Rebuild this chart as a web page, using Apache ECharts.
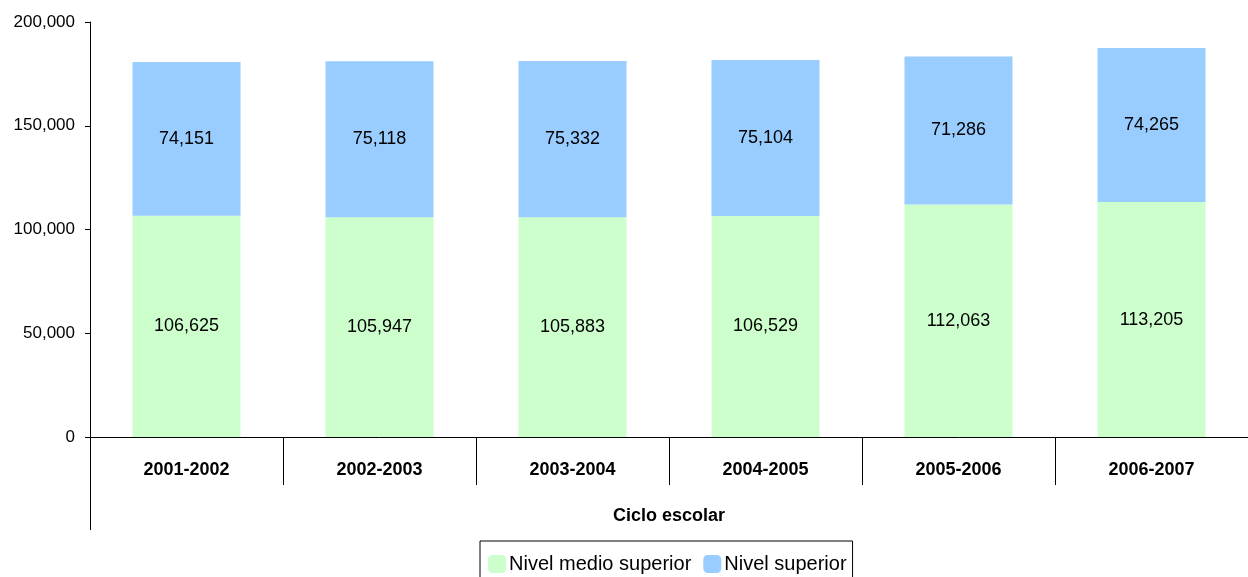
<!DOCTYPE html>
<html>
<head>
<meta charset="utf-8">
<script src="https://cdn.jsdelivr.net/npm/echarts@6/dist/echarts.min.js"></script>
<style>
  html, body { margin: 0; padding: 0; background: #fff; }
  #chart { width: 1248px; height: 577px; }
</style>
</head>
<body>
<div id="chart"></div>
<script>
  // datos
  var ciclos = ['2001-2002', '2002-2003', '2003-2004', '2004-2005', '2005-2006', '2006-2007'];
  var medioSuperior = [106625, 105947, 105883, 106529, 112063, 113205];
  var superior = [74151, 75118, 75332, 75104, 71286, 74265];
  var serieNombres = ['Nivel medio superior', 'Nivel superior'];

  var fuente = "'Liberation Sans', Arial, sans-serif";
  function miles(v) { return String(v).replace(/\B(?=(\d{3})+(?!\d))/g, ','); }

  var chart = echarts.init(document.getElementById('chart'));
  var option = {
    animation: false,
    textStyle: { fontFamily: fuente },
    grid: { left: 90, right: 0, top: 22, bottom: 140, containLabel: false },
    legend: {
      data: serieNombres,
      left: 480,
      top: 541,
      padding: [13, 6, 8, 8],
      itemWidth: 18,
      itemHeight: 18,
      itemGap: 12,
      borderColor: '#000',
      borderWidth: 1,
      backgroundColor: '#fff',
      textStyle: { fontFamily: fuente, fontSize: 20, color: '#000', padding: [0, 0, 0, -2] }
    },
    xAxis: {
      type: 'category',
      data: ciclos,
      name: 'Ciclo escolar',
      nameLocation: 'middle',
      nameGap: 70,
      nameTextStyle: { fontFamily: fuente, fontSize: 18, fontWeight: 'bold', color: '#000' },
      axisLine: { lineStyle: { color: '#000', width: 1 } },
      axisTick: { show: true, length: 48, lineStyle: { color: '#000' } },
      axisLabel: { margin: 24, fontFamily: fuente, fontSize: 18, fontWeight: 'bold', color: '#000' }
    },
    yAxis: {
      type: 'value',
      min: 0,
      max: 200000,
      interval: 50000,
      splitLine: { show: false },
      axisLine: { show: true, lineStyle: { color: '#000', width: 1 } },
      axisTick: { show: true, length: 5, lineStyle: { color: '#000' } },
      axisLabel: { margin: 15, fontFamily: fuente, fontSize: 17, color: '#000', formatter: miles }
    },
    // linea del eje y que baja hasta el titulo
    graphic: [{
      type: 'line',
      shape: { x1: 90.5, y1: 437, x2: 90.5, y2: 530 },
      style: { stroke: '#000', lineWidth: 1 }
    }],
    series: [
      {
        name: serieNombres[0],
        type: 'bar',
        stack: 'total',
        barWidth: 108,
        data: medioSuperior,
        itemStyle: { color: '#CCFFCC' },
        label: { show: true, position: 'inside', fontFamily: fuente, fontSize: 18, color: '#000',
          formatter: function (p) { return miles(p.value); } }
      },
      {
        name: serieNombres[1],
        type: 'bar',
        stack: 'total',
        barWidth: 108,
        data: superior,
        itemStyle: { color: '#99CCFF' },
        label: { show: true, position: 'inside', fontFamily: fuente, fontSize: 18, color: '#000',
          formatter: function (p) { return miles(p.value); } }
      }
    ]
  };
  chart.setOption(option);
</script>
</body>
</html>
